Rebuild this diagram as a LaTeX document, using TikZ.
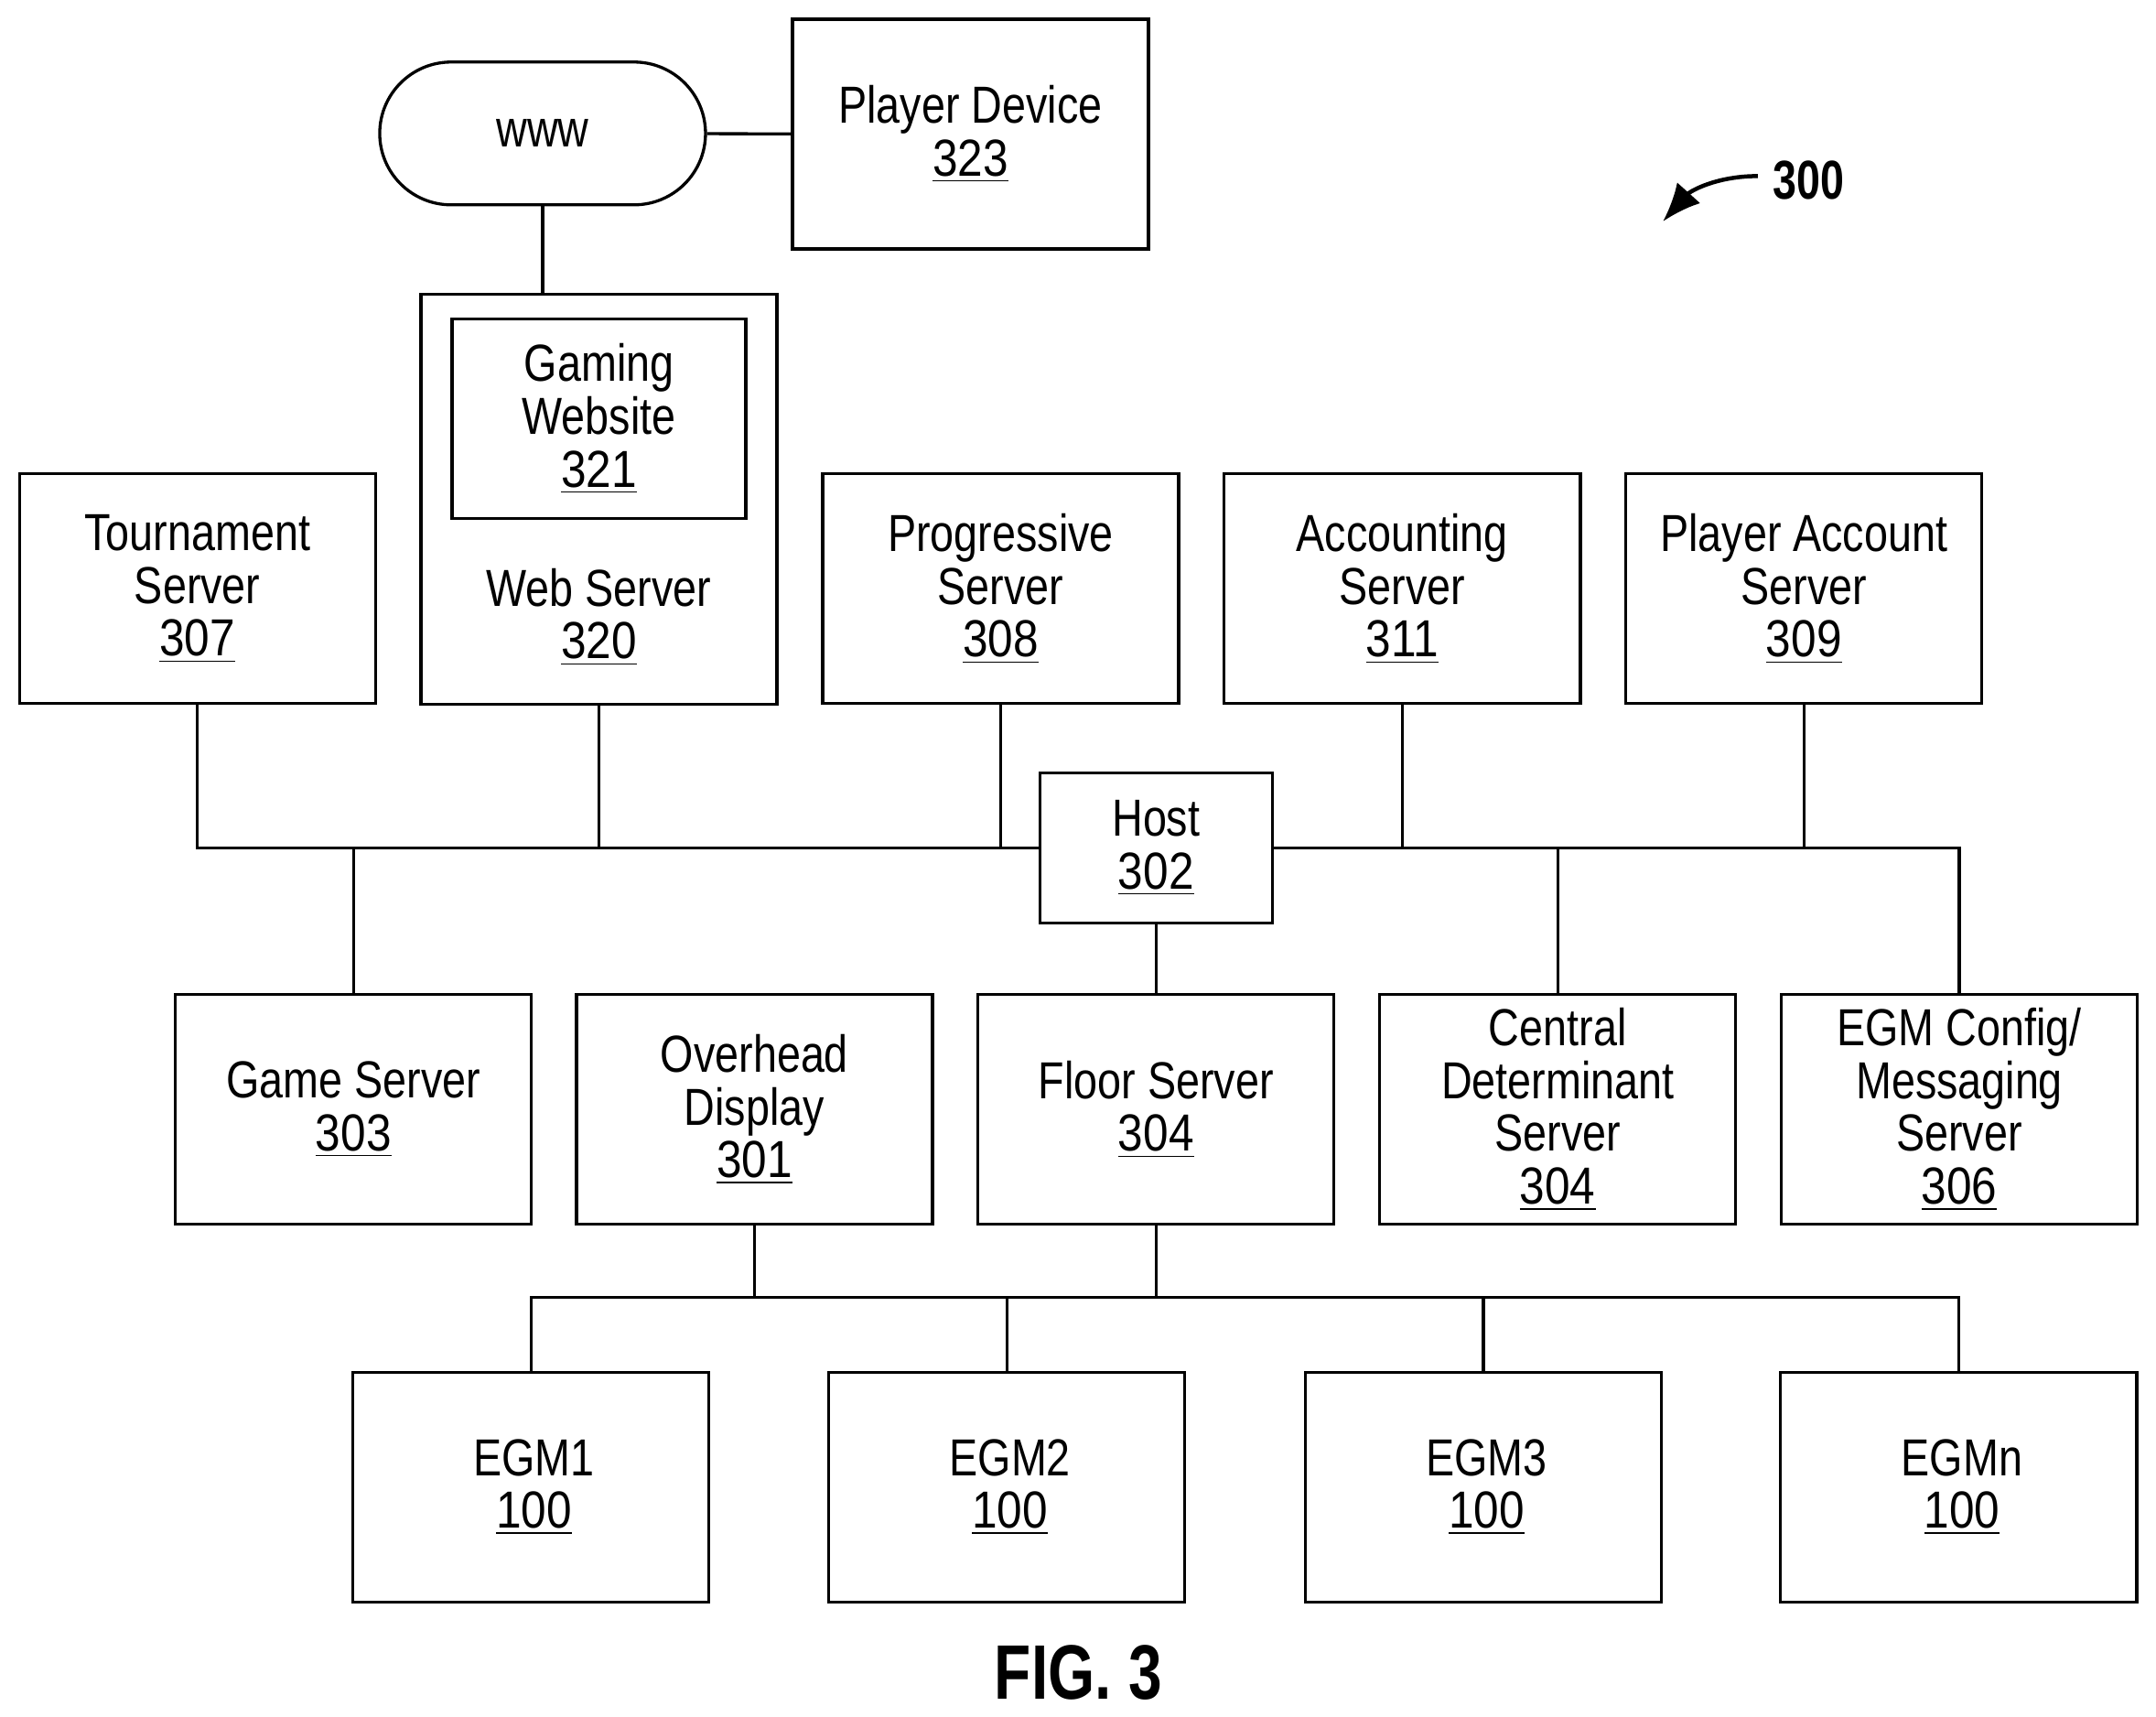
\documentclass[tikz,border=0pt]{standalone}
\usepackage{fontspec}
\setmainfont[FakeStretch=0.82,BoldFeatures={FakeStretch=0.78}]{Liberation Sans}
\usetikzlibrary{arrows.meta,shapes.misc}

\tikzset{
    boxed/.style={draw,line width=0.033cm,inner sep=0pt,align=center,minimum width=3.89cm,minimum height=2.51cm},
    lbl/.style={align=center,inner sep=0pt},
    wire/.style={line width=0.033cm},
    every node/.append style={font=\fontsize{16.2}{16.4}\selectfont}
}
\newcommand{\refnum}[1]{\underline{\fontspec[FakeStretch=0.87]{Liberation Sans}#1}}
\newcommand{\egmtext}[1]{\hspace*{0.07cm}#1\\\hspace*{0.07cm}\refnum{100}}

\begin{document}
\begin{tikzpicture}[x=0.01503cm,y=-0.01503cm]
    \newcommand{\rowa}{428}
    \newcommand{\rowb}{806.5}
    \newcommand{\rowc}{1081}
    \useasboundingbox (0,0) rectangle (1567.5,1247.5);

    \node [boxed] (player) at (705.5,97.5) {Player Device\\\refnum{323}};
    \node [draw,line width=0.033cm,rounded rectangle,inner sep=0pt,minimum width=3.56cm,minimum height=1.56cm] (www) at (394.5,97) {www};
    \node [boxed,minimum height=4.48cm] (web) at (435.5,363) {};
    \node [boxed,minimum width=3.21cm,minimum height=2.18cm] (website) at (435.5,304.5) {Gaming\\Website\\\refnum{321}};
    \node [lbl] (weblabel) at (435.5,448.5) {Web Server\\\refnum{320}};

    \node [boxed] (tournament) at (143.5,\rowa) {Tournament\\Server\\\refnum{307}};
    \node [boxed] (progressive) at (727.5,\rowa) {Progressive\\Server\\\refnum{308}};
    \node [boxed] (accounting) at (1019.5,\rowa) {Accounting\\Server\\\refnum{311}};
    \node [boxed] (account) at (1311.5,\rowa) {Player Account\\Server\\\refnum{309}};

    \node [boxed,minimum width=2.54cm,minimum height=1.64cm] (host) at (840.5,616.5) {Host\\\refnum{302}};

    \node [boxed] (game) at (257,\rowb) {Game Server\\\refnum{303}};
    \node [boxed] (overhead) at (548.5,\rowb) {Overhead\\Display\\\refnum{301}};
    \node [boxed] (floor) at (840.5,\rowb) {Floor Server\\\refnum{304}};
    \node [boxed] (central) at (1132.5,\rowb) {Central\\Determinant\\Server\\\refnum{304}};
    \node [boxed] (config) at (1424.5,\rowb) {EGM Config/\\Messaging\\Server\\\refnum{306}};

    \node [boxed] (egma) at (386,\rowc) {\egmtext{EGM1}};
    \node [boxed] (egmb) at (732,\rowc) {\egmtext{EGM2}};
    \node [boxed] (egmc) at (1078.5,\rowc) {\egmtext{EGM3}};
    \node [boxed] (egmn) at (1424,\rowc) {\egmtext{EGMn}};

    \draw [wire] (www) -- (player);
    \draw [wire] (www.south) -- (www.south |- web.north);

    \draw [wire] (tournament.south) |- (host.west);
    \draw [wire] (web.south) -- (web.south |- host.west);
    \draw [wire] (progressive.south) -- (progressive.south |- host.west);
    \draw [wire] (game.north) -- (game.north |- host.west);
    \draw [wire] (host.east) -| (config.north);
    \draw [wire] (accounting.south) -- (accounting.south |- host.east);
    \draw [wire] (account.south) -- (account.south |- host.east);
    \draw [wire] (central.north) -- (central.north |- host.east);
    \draw [wire] (host) -- (floor);

    \coordinate (egmbus) at (840.5,943);
    \draw [wire] (floor.south) -- (egmbus);
    \draw [wire] (overhead.south) -- (overhead.south |- egmbus);
    \draw [wire] (egma.north) |- (egmbus) -| (egmn.north);
    \draw [wire] (egmb.north) -- (egmb.north |- egmbus);
    \draw [wire] (egmc.north) -- (egmc.north |- egmbus);

    \coordinate (leadtail) at (1278,128);
    \coordinate (leadtip) at (1209,161);
    \draw [line width=0.045cm,-{Latex[length=0.42cm,width=0.34cm]}] (leadtail) to [out=180,in=48] (leadtip);
    \node [lbl,font=\fontsize{17}{17}\selectfont\bfseries] (figref) at (1315,131) {300};
    \node [lbl,font=\fontsize{24}{24}\selectfont\bfseries] (figtitle) at (784,1216) {FIG. 3};
\end{tikzpicture}
\end{document}
